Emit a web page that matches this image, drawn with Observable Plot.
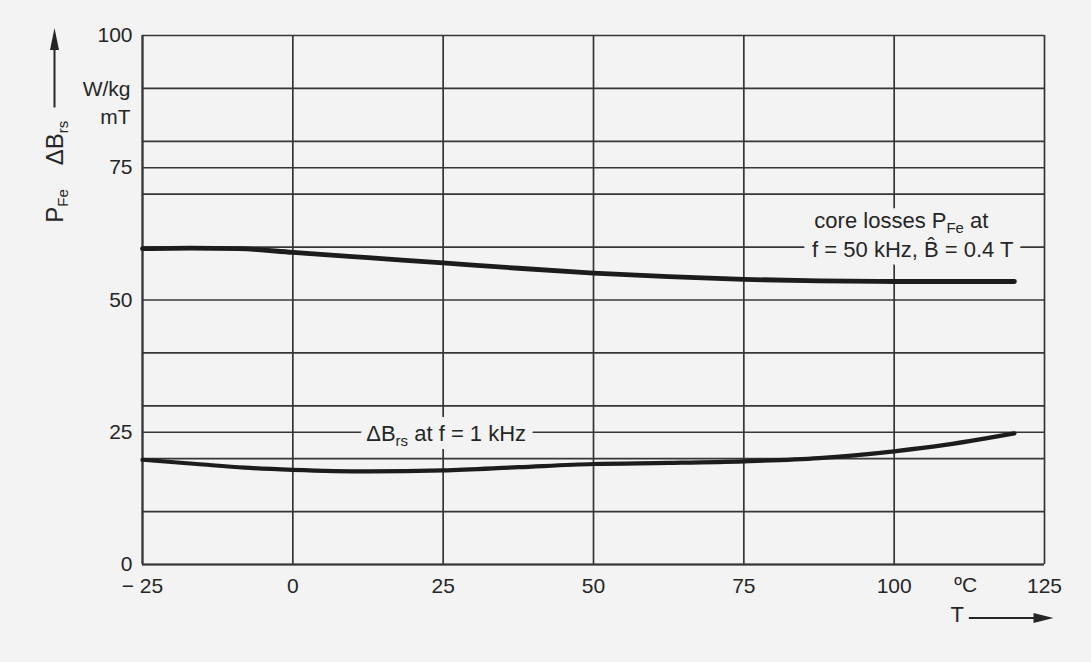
<!DOCTYPE html>
<html><head><meta charset="utf-8">
<script src="https://cdn.jsdelivr.net/npm/d3@7"></script>
<script src="https://cdn.jsdelivr.net/npm/@observablehq/plot@0.6"></script>
<style>
html,body{margin:0;padding:0;background:#f3f3f3;}
#chart svg{display:block}
</style></head><body><div id="chart"></div>
<script>
// Core losses P_Fe (W/kg) at f = 50 kHz, B^ = 0.4 T
const lossTemps = [-25, -17, -9, 0, 12.5, 25, 37.5, 50, 62.5, 75, 87.5, 100, 110, 120];
const lossValues = [59.7, 59.8, 59.7, 59.0, 58.0, 57.0, 56.0, 55.1, 54.4, 53.9, 53.6, 53.5, 53.5, 53.5];
// Delta B_rs (mT) at f = 1 kHz
const dbTemps = [-25, -16, -8, 0, 12.5, 25, 37.5, 50, 62.5, 75, 87.5, 100, 108.5, 115, 120];
const dbValues = [19.8, 19.0, 18.3, 17.9, 17.6, 17.8, 18.4, 19.0, 19.2, 19.5, 20.1, 21.4, 22.6, 23.8, 24.8];

const xTicks = [-25, 0, 25, 50, 75, 100, 125];
const yTicks = [0, 25, 50, 75, 100];
const xGrid = [-25, 0, 25, 50, 75, 100, 125];
const yGrid = [0, 10, 20, 25, 30, 40, 50, 60, 70, 75, 80, 90, 100];

const lossLabel1 = "core losses P_Fe_ at";
const lossLabel2 = "f = 50 kHz, B\u0302 = 0.4 T";
const dbLabel = "\u0394B_rs_ at f = 1 kHz";
const yLabel = "P_Fe_\u2003\u0394B_rs";
const yUnit1 = "W/kg";
const yUnit2 = "mT";
const xUnit = "\u00baC";
const xLabel = "T";

const lossData = lossTemps.map((t, i) => ({t, v: lossValues[i]}));
const dbData = dbTemps.map((t, i) => ({t, v: dbValues[i]}));

const BG = "#f3f3f3";
const INK = "#262626";
const GRID = "#363636";
const FS = 22;

const headUp = {draw(ctx) { ctx.moveTo(0, 0); ctx.lineTo(4.5, 22); ctx.lineTo(-4.5, 22); ctx.closePath(); }};
const headRight = {draw(ctx) { ctx.moveTo(0, 0); ctx.lineTo(-20, 5); ctx.lineTo(-20, -5); ctx.closePath(); }};

// annotation: a background-coloured halo layer masking the grid, then the ink layer
function label(txt, x, y, halo) {
  return [
    Plot.text([txt], {x, y, text: d => d, fill: BG, stroke: BG, strokeWidth: halo, fontSize: FS}),
    Plot.text([txt], {x, y, text: d => d, fill: INK, fontSize: FS})
  ];
}

const plot = Plot.plot({
  width: 1091,
  height: 662,
  marginLeft: 142,
  marginRight: 47,
  marginTop: 35,
  marginBottom: 98,
  style: {background: BG, fontFamily: "'Liberation Sans', Arial, Helvetica, sans-serif", fontSize: "21px", color: INK},
  x: {domain: [-25, 125], ticks: xTicks, tickSize: 0, tickPadding: 14, label: null,
      tickFormat: d => d < 0 ? "\u2212 " + Math.abs(d) : String(d)},
  y: {domain: [0, 100], ticks: yTicks, tickSize: 0, tickPadding: 10, label: null},
  marks: [
    Plot.ruleY(yGrid, {stroke: GRID, strokeWidth: 1.7}),
    Plot.ruleX(xGrid, {stroke: GRID, strokeWidth: 1.7}),
    Plot.ruleY([0], {stroke: GRID, strokeWidth: 2}),
    Plot.ruleX([-25], {stroke: GRID, strokeWidth: 2}),
    ...label(lossLabel1, 101.2, 64.9, 16),
    ...label(lossLabel2, 103.1, 59.5, 16),
    ...label(dbLabel, 25.5, 24.6, 16),
    // curves
    Plot.line(lossData, {x: "t", y: "v", stroke: "#1c1c1c", strokeWidth: 4.8, curve: "monotone-x", strokeLinecap: "round"}),
    Plot.line(dbData, {x: "t", y: "v", stroke: "#1c1c1c", strokeWidth: 4.2, curve: "monotone-x", strokeLinecap: "round"}),
    // units
    Plot.text([yUnit1], {x: -25, y: 89.8, dx: -12, text: d => d, textAnchor: "end", fill: INK, fontSize: 21}),
    Plot.text([yUnit2], {x: -25, y: 84.6, dx: -12, text: d => d, textAnchor: "end", fill: INK, fontSize: 21}),
    Plot.text([xUnit], {x: 111.9, y: 0, dy: 21, text: d => d, fill: INK, fontSize: 21}),
    // y-axis label and arrow
    Plot.text([yLabel], {x: -25, y: 64.6, dx: -87, rotate: -90, textAnchor: "start", text: d => d, fill: INK, fontSize: 24}),
    Plot.ruleX([-25], {y1: 86.3, y2: 97.4, dx: -88, stroke: INK, strokeWidth: 2}),
    Plot.dot([{x: -25, y: 101.4}], {x: "x", y: "y", dx: -88, symbol: headUp, fill: INK, stroke: "none"}),
    // x-axis label and arrow
    Plot.text([xLabel], {x: 110.5, y: -9.6, text: d => d, fill: INK, fontSize: 22}),
    Plot.ruleY([-10.1], {x1: 112.5, x2: 123.5, stroke: INK, strokeWidth: 2}),
    Plot.dot([{x: 126.5, y: -10.1}], {x: "x", y: "y", symbol: headRight, fill: INK, stroke: "none"})
  ]
});

// subscripts: text between underscores becomes a subscript tspan
d3.select(plot).selectAll("text").each(function() {
  const t = this.textContent;
  if (!t.includes("_")) return;
  const parts = t.split("_");
  const sel = d3.select(this);
  sel.text(null);
  let shifted = false;
  parts.forEach((p, i) => {
    if (!p) return;
    const sub = i % 2 === 1;
    const ts = sel.append("tspan").text(p);
    if (sub) {
      ts.attr("font-size", "15px").attr("dy", shifted ? 0 : 5);
      shifted = true;
    } else if (shifted) {
      ts.attr("dy", -5);
      shifted = false;
    }
  });
});

document.getElementById("chart").append(plot);
</script>
</body></html>
